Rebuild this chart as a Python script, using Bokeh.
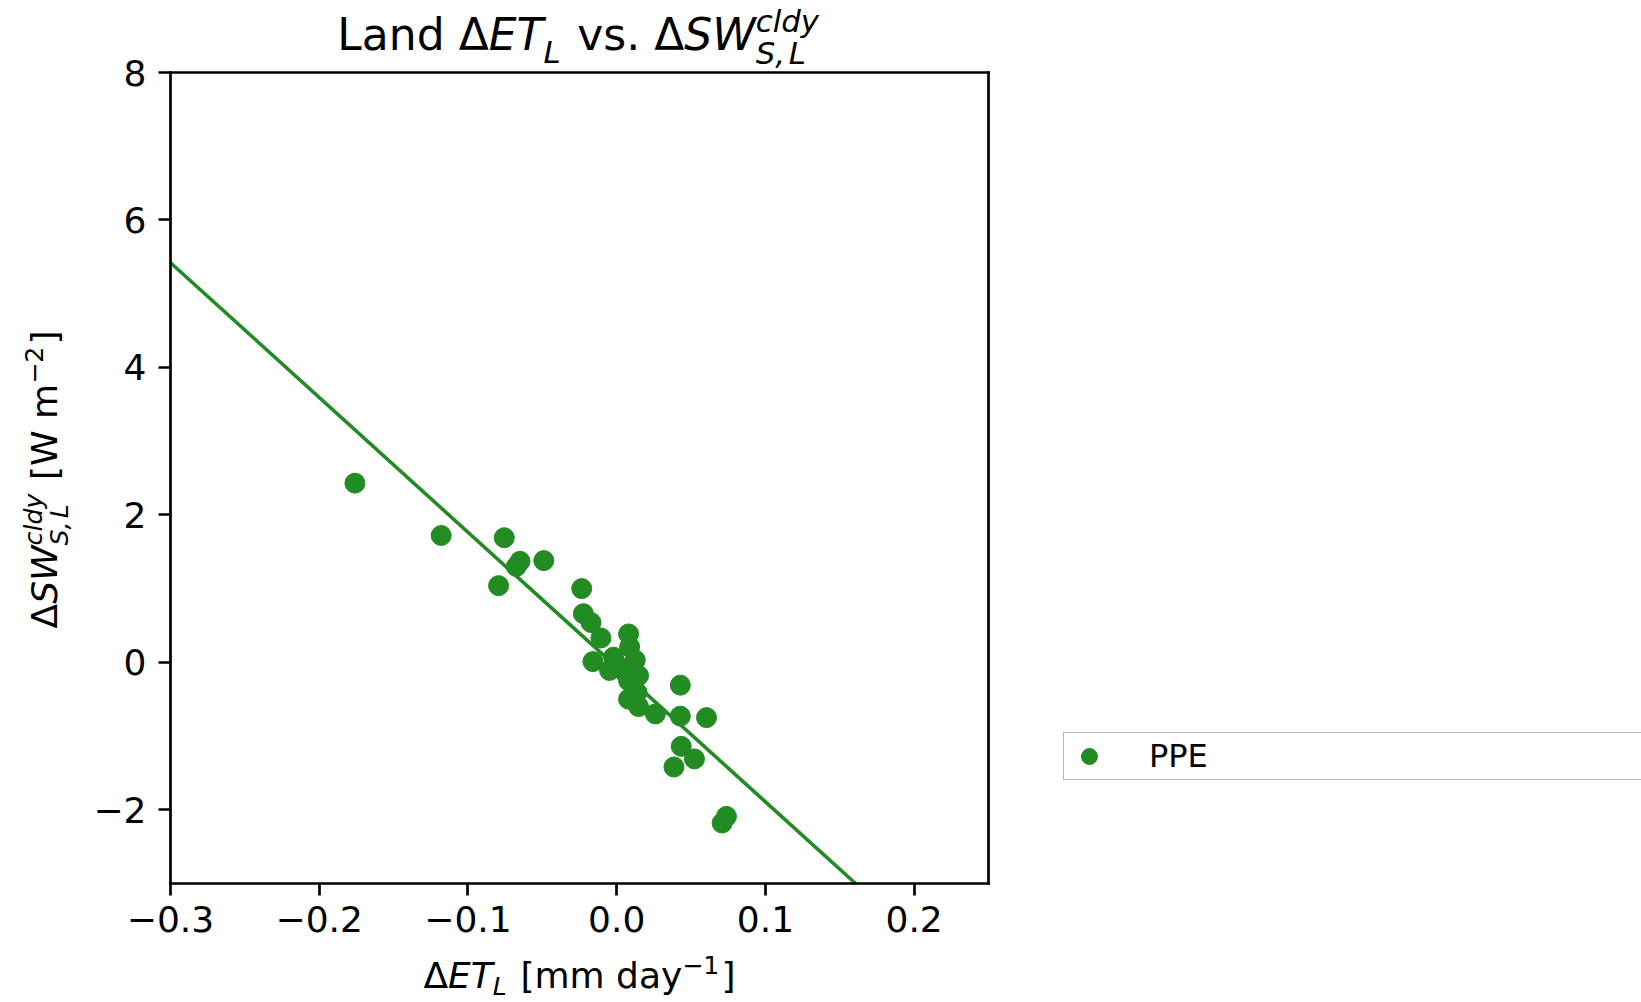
import numpy as np
from bokeh.plotting import figure
from bokeh.models import (Label, Legend, LegendItem, FixedTicker, LinearAxis,
                          CustomJSTickFormatter, ColumnDataSource, Range1d)
from bokeh.embed import file_html
from bokeh.resources import INLINE

# Land evapotranspiration change vs. cloudy-sky surface shortwave change (PPE members)
delta_et_land = [
    -0.176, -0.118, -0.0756, -0.0794, -0.065, -0.0675, -0.049, -0.0235,
    -0.0224, -0.0173, -0.0106, -0.016,
    0.008, 0.0087, -0.0021, 0.0125, -0.0048, 0.0058, 0.0147, 0.008,
    0.0024, 0.0137, 0.008, 0.0147, 0.026,
    0.0428, 0.0428, 0.0604, 0.0434, 0.0523, 0.0385, 0.0738, 0.0709,
]
delta_sw_cldy = [
    2.43, 1.72, 1.69, 1.04, 1.37, 1.30, 1.38, 1.00,
    0.66, 0.54, 0.33, 0.01,
    0.385, 0.21, 0.07, 0.03, -0.11, -0.14, -0.18, -0.25,
    -0.07, -0.41, -0.50, -0.60, -0.70,
    -0.31, -0.73, -0.75, -1.14, -1.31, -1.42, -2.09, -2.18,
]
fit_slope = -18.28
fit_intercept = -0.064

series_name = "PPE"
x_ticks = [-0.3, -0.2, -0.1, 0.0, 0.1, 0.2]
y_ticks = [-2, 0, 2, 4, 6, 8]
x_limits = (-0.3, 0.25)
y_limits = (-3, 8)

GREEN = "#228B22"
FONT = "DejaVu Sans"
SPINE = 2.7
W, H = 1641, 1002
FL, FR, FT, FB = 170, 988, 72, 883   # axes box edges in canvas pixels

# The drawing frame spans the whole canvas; the axes box sits inside it,
# so titles, axis labels and the legend can live anywhere on the page.
kx = (FR - FL) / (x_limits[1] - x_limits[0])
ky = (FB - FT) / (y_limits[1] - y_limits[0])
x_range = Range1d(x_limits[0] - FL / kx, x_limits[1] + (W - FR) / kx)
y_range = Range1d(y_limits[0] - (H - FB) / ky, y_limits[1] + FT / ky)

p = figure(width=W, height=H, x_range=x_range, y_range=y_range,
           output_backend="svg", toolbar_location=None,
           min_border_left=0, min_border_right=0, min_border_top=0, min_border_bottom=0)
p.title.visible = False
p.background_fill_color = "white"
p.border_fill_color = "white"
p.outline_line_color = None
p.xgrid.visible = False
p.ygrid.visible = False

xax = p.below[0]
yax = p.left[0]
minus_fmt = "return (tick < 0 ? '\\u2212' : '') + Math.abs(tick).toFixed(%d);"
xax.ticker = FixedTicker(ticks=x_ticks)
yax.ticker = FixedTicker(ticks=y_ticks)
xax.formatter = CustomJSTickFormatter(code=minus_fmt % 1)
yax.formatter = CustomJSTickFormatter(code=minus_fmt % 0)
xax.fixed_location = y_limits[0]
yax.fixed_location = x_limits[0]
xax.bounds = x_limits
yax.bounds = y_limits
xax.major_label_standoff = 10
yax.major_label_standoff = 12

top_spine = LinearAxis(fixed_location=y_limits[1], bounds=x_limits,
                       ticker=FixedTicker(ticks=[]))
right_spine = LinearAxis(fixed_location=x_limits[1], bounds=y_limits,
                         ticker=FixedTicker(ticks=[]))
p.add_layout(top_spine, "above")
p.add_layout(right_spine, "right")

for ax in (xax, yax, top_spine, right_spine):
    ax.axis_line_width = SPINE
    ax.axis_line_color = "black"
    ax.axis_line_cap = "square"
    ax.major_tick_line_width = SPINE
    ax.major_tick_line_color = "black"
    ax.major_tick_out = 12
    ax.major_tick_in = 0
    ax.minor_tick_line_color = None
    ax.major_label_text_font = FONT
    ax.major_label_text_font_size = "36px"
    ax.major_label_text_color = "black"

src = ColumnDataSource(dict(x=delta_et_land, y=delta_sw_cldy))
pts = p.scatter(x="x", y="y", source=src, size=20, fill_color=GREEN, line_color=GREEN)

# regression line, trimmed to the axes box
x0 = x_limits[0]
x1 = min(x_limits[1], (y_limits[0] - fit_intercept) / fit_slope)
fit_x = np.array([x0, x1])
p.line(fit_x, fit_slope * fit_x + fit_intercept, line_color=GREEN, line_width=3.6)

legend = Legend(items=[LegendItem(label=series_name, renderers=[pts])],
                location=(1063, H - 780), orientation="vertical",
                padding=3, spacing=0, margin=0,
                glyph_width=44, glyph_height=40, label_standoff=38,
                label_width=600, label_height=40,
                label_text_font=FONT, label_text_font_size="32px",
                label_text_color="black", label_text_baseline="middle",
                border_line_color="#6e6e6e", border_line_width=1.6,
                background_fill_color="white", background_fill_alpha=1.0)
p.add_layout(legend)

# advance widths (em) of DejaVu Sans, for laying out math-style labels
EM = {" ": 0.318, "L": 0.557, "a": 0.613, "n": 0.634, "d": 0.635, "\u0394": 0.684,
      "E": 0.632, "T": 0.611, "v": 0.592, "s": 0.521, ".": 0.318, "S": 0.635,
      "W": 0.989, "c": 0.550, "l": 0.278, "y": 0.592, ",": 0.318, "[": 0.390,
      "]": 0.390, "m": 0.974, "\u2212": 0.838, "1": 0.636, "2": 0.636}
BASELINE_FIX = 0.38   # lift (em) so the drawn baseline lands on the target line


def adv(text, fs):
    return sum(EM.get(c, 0.6) for c in text) * fs


def draw_math(pieces, F, cx, cy, rotated=False, sub_drop=0.28):
    """Lay out text pieces with sub/superscripts centred on canvas point (cx, cy)."""
    s = 0.7 * F
    items, pos = [], 0.0

    def put(text, italic, fs, at, shift):
        lead = len(text) - len(text.lstrip(" "))
        items.append((text.strip(" "), italic, fs, at + adv(" " * lead, fs), shift))

    for piece in pieces:
        kind = piece[0]
        if kind == "txt":
            _, text, italic = piece
            put(text, italic, F, pos, 0.0)
            pos += adv(text, F)
        elif kind == "sub":
            _, text, italic = piece
            put(text, italic, s, pos, -sub_drop * F)
            pos += adv(text, s) + 0.06 * F
        elif kind == "sup":
            _, text, italic = piece
            put(text, italic, s, pos, 0.42 * F)
            pos += adv(text, s) + 0.06 * F
        elif kind == "supsub":
            _, sup, subs, italic = piece
            put(sup, italic, s, pos, 0.42 * F)
            w = 0.0
            for part in subs:
                put(part, italic, s, pos + w, -0.30 * F)
                w += adv(part, s) + 0.12 * s
            pos += max(adv(sup, s), w) + 0.06 * F
    start = -pos / 2
    for text, italic, fs, along, shift in items:
        lift = shift + BASELINE_FIX * fs
        if rotated:
            px, py = cx - lift, cy - (start + along)
        else:
            px, py = cx + start + along, cy - lift
        p.add_layout(Label(x=x_limits[0], y=y_limits[1],
                           x_offset=px - FL, y_offset=FT - py,
                           text=text, text_font=FONT, text_font_size=f"{fs:.1f}px",
                           text_font_style="italic" if italic else "normal",
                           text_color="black", text_align="left",
                           text_baseline="alphabetic",
                           angle=np.pi / 2 if rotated else 0.0))


title_pieces = [("txt", "Land ", False), ("txt", "\u0394", False), ("txt", "ET", True),
                ("sub", "L", True), ("txt", " vs. ", False), ("txt", "\u0394", False),
                ("txt", "SW", True), ("supsub", "cldy", ["S,", "L"], True)]
xlabel_pieces = [("txt", "\u0394", False), ("txt", "ET", True), ("sub", "L", True),
                 ("txt", " [mm day", False), ("sup", "\u22121", False), ("txt", "]", False)]
ylabel_pieces = [("txt", "\u0394", False), ("txt", "SW", True),
                 ("supsub", "cldy", ["S,", "L"], True),
                 ("txt", " [W m", False), ("sup", "\u22122", False), ("txt", "]", False)]

draw_math(title_pieces, 44, 579, 51)
draw_math(xlabel_pieces, 36, 579, 989, sub_drop=0.17)
draw_math(ylabel_pieces, 36, 58, 479, rotated=True)

open("out.html", "w").write(file_html(p, INLINE))
